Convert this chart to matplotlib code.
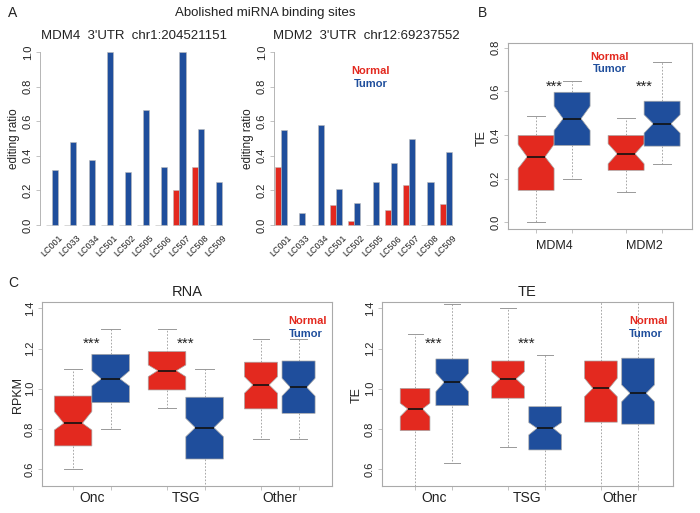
import matplotlib
matplotlib.use("Agg")
import matplotlib.pyplot as plt
import numpy as np

plt.rcParams['font.family'] = ['Liberation Sans', 'DejaVu Sans']

RED = '#E3291F'
BLUE = '#1F4E9C'
GRAY = '#999999'
TXT = '#222222'

# ---------------- data ----------------
samples = ['LC001', 'LC033', 'LC034', 'LC501', 'LC502', 'LC505', 'LC506', 'LC507', 'LC508', 'LC509']
mdm4_normal = [0, 0, 0, 0, 0, 0, 0, 0.20, 0.333, 0]
mdm4_tumor = [0.32, 0.48, 0.375, 1.0, 0.305, 0.665, 0.333, 1.0, 0.555, 0.25]
mdm2_normal = [0.333, 0, 0, 0.115, 0.025, 0, 0.085, 0.23, 0, 0.12]
mdm2_tumor = [0.55, 0.07, 0.58, 0.21, 0.13, 0.25, 0.36, 0.50, 0.25, 0.42]

# box stats: [whislo, q1, cilo, med, cihi, q3, whishi]
b_genes = ['MDM4', 'MDM2']
b_normal = [[0.0, 0.146, 0.247, 0.300, 0.357, 0.398, 0.487],
            [0.138, 0.238, 0.268, 0.314, 0.360, 0.398, 0.480]]
b_tumor = [[0.199, 0.352, 0.421, 0.475, 0.532, 0.596, 0.647],
           [0.268, 0.349, 0.409, 0.452, 0.493, 0.555, 0.734]]

c_groups = ['Onc', 'TSG', 'Other']
rna_normal = [[0.602, 0.716, 0.795, 0.829, 0.887, 0.964, 1.099],
              [0.903, 0.994, 1.060, 1.090, 1.118, 1.185, 1.297],
              [0.751, 0.900, 0.978, 1.019, 1.060, 1.132, 1.248]]
rna_tumor = [[0.799, 0.931, 1.014, 1.049, 1.089, 1.171, 1.296],
             [0.460, 0.651, 0.762, 0.807, 0.853, 0.958, 1.099],
             [0.751, 0.878, 0.964, 1.007, 1.052, 1.138, 1.248]]
te_normal = [[0.450, 0.792, 0.862, 0.900, 0.928, 1.002, 1.271],
             [0.713, 0.953, 1.011, 1.049, 1.085, 1.138, 1.403],
             [0.450, 0.834, 0.961, 1.002, 1.052, 1.138, 1.500]]
te_tumor = [[0.630, 0.916, 0.986, 1.032, 1.077, 1.148, 1.420],
            [0.450, 0.696, 0.771, 0.804, 0.832, 0.911, 1.168],
            [0.450, 0.824, 0.936, 0.978, 1.019, 1.152, 1.500]]

W, H = 700, 513
fig = plt.figure(figsize=(W / 100, H / 100), dpi=100)


def ax_px(l, t, r, b):
    return fig.add_axes([l / W, 1 - b / H, (r - l) / W, (b - t) / H])


def ftext(x, y, s, **kw):
    fig.text(x / W, 1 - y / H, s, **kw)


# ---------------- panel A ----------------
def bar_panel(l, r, xlim, normal, tumor, title, show_legend):
    ax = ax_px(l, 45, r, 232)
    n = len(samples)
    xn = [1.5 + 3 * i for i in range(n)]
    xt = [2.5 + 3 * i for i in range(n)]
    ax.bar(xn, normal, width=1.0, color=RED, edgecolor='#bbbbbb', linewidth=0.4)
    ax.bar(xt, tumor, width=1.0, color=BLUE, edgecolor='#bbbbbb', linewidth=0.4)
    ax.set_xlim(*xlim)
    ax.set_ylim(-0.04, 1.04)
    for s in ['top', 'right', 'bottom']:
        ax.spines[s].set_visible(False)
    ax.spines['left'].set_bounds(0, 1)
    ax.spines['left'].set_color('#aaaaaa')
    ax.spines['left'].set_linewidth(0.6)
    ax.set_xticks([])
    ax.set_yticks([0, 0.2, 0.4, 0.6, 0.8, 1.0])
    ax.set_yticklabels(['0.0', '0.2', '0.4', '0.6', '0.8', '1.0'], rotation=90, va='center')
    ax.tick_params(axis='y', length=3, width=0.5, color='#aaaaaa', labelsize=8, labelcolor=TXT, pad=2)
    ax.patch.set_visible(False)
    for i, lab in enumerate(samples):
        ax.text(2 + 3 * i + 1.0, -0.05, lab, rotation=45, ha='right', va='top',
                rotation_mode='anchor', fontsize=6.5, color=TXT, transform=ax.transData)
    ax.set_title(title, fontsize=9.5, color=TXT, pad=4)
    ax.set_ylabel('editing ratio', fontsize=8.5, color=TXT, labelpad=2)
    if show_legend:
        ax.text(16.7, 0.89, 'Normal', color=RED, fontsize=8, fontweight='bold', ha='center', va='center')
        ax.text(16.7, 0.815, 'Tumor', color=BLUE, fontsize=8, fontweight='bold', ha='center', va='center')
    return ax


bar_panel(40, 228, (0, 31), mdm4_normal, mdm4_tumor, "MDM4  3'UTR  chr1:204521151", False)
bar_panel(274, 458, (0.84, 31), mdm2_normal, mdm2_tumor, "MDM2  3'UTR  chr12:69237552", True)

ftext(265, 13, 'Abolished miRNA binding sites', fontsize=9.5, ha='center', va='center', color=TXT)
ftext(8, 13, 'A', fontsize=10, ha='left', va='center', color=TXT)
ftext(478, 13, 'B', fontsize=10, ha='left', va='center', color=TXT)
ftext(8, 283, 'C', fontsize=10, ha='left', va='center', color=TXT)


# ---------------- box helpers ----------------
def mkstats(v):
    return dict(whislo=v[0], q1=v[1], cilo=v[2], med=v[3], cihi=v[4], q3=v[5], whishi=v[6], fliers=[])


def draw_boxes(ax, stats_list, positions, widths, colors):
    bp = ax.bxp([mkstats(v) for v in stats_list], positions=positions, widths=widths,
                shownotches=True, patch_artist=True, showfliers=False,
                boxprops=dict(edgecolor='#aaaaaa', linewidth=0.5),
                whiskerprops=dict(color='#999999', linewidth=0.6, linestyle=(0, (2, 2))),
                capprops=dict(color='#999999', linewidth=0.7),
                medianprops=dict(color='#111111', linewidth=1.2))
    for patch, c in zip(bp['boxes'], colors):
        patch.set_facecolor(c)
        patch.set_zorder(2)
    for w in bp['whiskers']:
        w.set_zorder(1)
    for m in bp['medians']:
        m.set_zorder(3)
    return bp


def style_box_axes(ax):
    for s in ax.spines.values():
        s.set_color('#aaaaaa')
        s.set_linewidth(0.8)
    ax.tick_params(axis='both', length=3, width=0.5, color='#aaaaaa', labelsize=8, labelcolor=TXT, pad=2)


# ---------------- panel B ----------------
axb = ax_px(508, 43, 692, 229)
bpos = [1, 2, 3.5, 4.5]
bstats = [b_normal[0], b_tumor[0], b_normal[1], b_tumor[1]]
draw_boxes(axb, bstats, bpos, [1.0] * 4, [RED, BLUE, RED, BLUE])
axb.set_xlim(0.22, 5.33)
axb.set_ylim(-0.031, 0.822)
style_box_axes(axb)
axb.set_yticks([0, 0.2, 0.4, 0.6, 0.8])
axb.set_yticklabels(['0.0', '0.2', '0.4', '0.6', '0.8'], rotation=90, va='center')
axb.set_xticks(bpos)
axb.set_xticklabels([])
for gx, g in zip([1.5, 4.0], b_genes):
    axb.text(gx, -0.11, g, ha='center', va='center', fontsize=9, color=TXT, transform=axb.transData)
for gx in [1.5, 4.0]:
    axb.text(gx, 0.622, '***', ha='center', va='center', fontsize=10.5, color=TXT)
axb.text(3.05, 0.757, 'Normal', color=RED, fontsize=8, fontweight='bold', ha='center', va='center')
axb.text(3.05, 0.702, 'Tumor', color=BLUE, fontsize=8, fontweight='bold', ha='center', va='center')
ftext(482, 138, 'TE', fontsize=9, rotation=90, ha='center', va='center', color=TXT)


# ---------------- panel C ----------------
def c_panel(l, r, xlim, normal, tumor, widths, title, ylabel, ylabel_x):
    ax = ax_px(l, 302, r, 486)
    pos = [1, 2, 3.5, 4.5, 6, 7]
    stats = []
    for nn, tt in zip(normal, tumor):
        stats += [nn, tt]
    draw_boxes(ax, stats, pos, widths, [RED, BLUE] * 3)
    ax.set_xlim(*xlim)
    ax.set_ylim(0.517, 1.431)
    style_box_axes(ax)
    ax.set_yticks([0.6, 0.8, 1.0, 1.2, 1.4])
    ax.set_yticklabels(['0.6', '0.8', '1.0', '1.2', '1.4'], rotation=90, va='center')
    ax.set_xticks(pos)
    ax.set_xticklabels([])
    for gx, g in zip([1.5, 4.0, 6.5], c_groups):
        ax.text(gx, 0.455, g, ha='center', va='center', fontsize=10, color=TXT)
    for gx in [1.5, 4.0]:
        ax.text(gx, 1.225, '***', ha='center', va='center', fontsize=11, color=TXT)
    ax.text(0.85, 0.895, 'Normal', color=RED, fontsize=8, fontweight='bold', ha='left', va='center',
            transform=ax.transAxes)
    ax.text(0.85, 0.825, 'Tumor', color=BLUE, fontsize=8, fontweight='bold', ha='left', va='center',
            transform=ax.transAxes)
    ax.set_title(title, fontsize=10.5, color=TXT, pad=4)
    ftext(ylabel_x, 395, ylabel, fontsize=9, rotation=90, ha='center', va='center', color=TXT)
    return ax


c_panel(42, 332, (0.173, 7.89), rna_normal, rna_tumor, [1.0, 1.0, 1.0, 1.0, 0.88, 0.88], 'RNA', 'RPKM', 18)
c_panel(382, 673, (0.11, 7.94), te_normal, te_tumor, [0.8, 0.88, 0.88, 0.88, 0.88, 0.88], 'TE', 'TE', 357)

fig.savefig('out.png', dpi=100)
